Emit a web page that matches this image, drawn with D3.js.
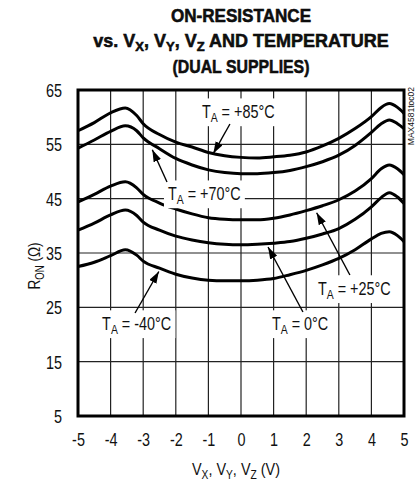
<!DOCTYPE html>
<html>
<head>
<meta charset="utf-8">
<script src="https://cdn.jsdelivr.net/npm/d3@7"></script>
<style>
  html, body { margin: 0; padding: 0; background: #fff; }
  svg text { font-family: 'Liberation Sans', Arial, sans-serif; fill: #111; }
</style>
</head>
<body>
<div id="chart"></div>
<script>
// supply voltage (V)
var volts = [-5, -4.5, -4, -3.55, -3.2, -3, -2.5, -2, -1.5, -1, -0.5, 0, 0.5, 1, 1.5, 2, 2.5, 3, 3.5, 4, 4.3, 4.55, 4.8, 5];

// R_ON (ohm) per temperature
var ron85  = [57.5, 59.0, 60.8, 61.7, 60.3, 58.8, 56.8, 55.4, 54.5, 53.5, 52.9, 52.6, 52.5, 52.7, 53.0, 53.6, 54.7, 56.1, 57.9, 60.1, 61.8, 62.5, 61.8, 60.7];
var ron70  = [54.3, 55.8, 57.4, 58.4, 57.5, 56.2, 54.2, 52.4, 51.2, 50.3, 49.8, 49.6, 49.6, 49.8, 50.2, 50.9, 51.8, 53.0, 54.8, 57.2, 58.8, 59.5, 58.8, 57.9];
var ron25  = [44.4, 45.8, 47.3, 48.1, 47.0, 45.8, 44.2, 43.1, 42.2, 41.5, 41.2, 41.1, 41.1, 41.4, 42.0, 42.8, 43.7, 44.8, 46.4, 48.7, 50.5, 51.2, 50.5, 49.4];
var ron0   = [39.2, 40.5, 42.0, 42.9, 41.9, 40.7, 39.2, 38.1, 37.4, 36.9, 36.6, 36.5, 36.6, 36.8, 37.1, 37.7, 38.5, 39.5, 41.2, 43.5, 45.2, 46.1, 45.3, 44.1];
var ronM40 = [32.5, 33.3, 34.5, 35.6, 34.6, 33.5, 32.2, 31.1, 30.4, 30.0, 29.9, 29.9, 30.0, 30.3, 31.0, 31.8, 32.8, 34.0, 35.6, 37.6, 38.6, 38.9, 38.2, 37.1];

var xTicks = [-5, -4, -3, -2, -1, 0, 1, 2, 3, 4, 5];
var yTicks = [5, 15, 25, 35, 45, 55, 65];

// annotation labels: text value, label anchor, arrow tail, arrow tip (data units)
var labelTemps = ['+85°C', '+70°C', '+25°C', '0°C', '-40°C'];
var labelPos   = [[-1.2, 59.85], [-2.24, 44.75], [2.36, 27.3], [0.95, 20.85], [-4.26, 20.85]];
var arrowTail  = [[-0.34, 58.74], [-2.27, 48.07], [3.34, 30.95], [1.90, 24.14], [-3.25, 23.96]];
var arrowTip   = [[-0.85, 53.3], [-2.72, 54.0], [2.32, 42.4], [0.83, 36.1], [-2.52, 31.6]];

var width = 415, height = 483;
var narrow = 0.8; // condensed look
var svg = d3.select('#chart').append('svg')
    .attr('width', width)
    .attr('height', height);

var x = d3.scaleLinear().domain([-5, 5]).range([78, 404]);
var y = d3.scaleLinear().domain([5, 65]).range([416, 90]);

// text with subscripts, parts = [[str, isSub], ...]
function subText(sel, parts, size, subSize) {
    var down = false;
    parts.forEach(function (p) {
        var t = sel.append('tspan').text(p[0]);
        if (p[1] && !down) { t.attr('dy', 4).attr('font-size', subSize); down = true; }
        else if (p[1]) { t.attr('font-size', subSize); }
        else if (down) { t.attr('dy', -4).attr('font-size', size); down = false; }
        else { t.attr('font-size', size); }
    });
}
// condensed text group at a pixel point
function narrowText(parent, px, py, rot, sx) {
    return parent.append('g')
        .attr('transform', 'translate(' + px + ',' + py + ')' + (rot ? ' rotate(' + rot + ')' : '') + ' scale(' + (sx || narrow) + ',1)');
}

// title
var tg1 = narrowText(svg, 241, 21.5, 0, 0.95);
tg1.append('text').attr('text-anchor', 'middle').attr('font-size', 18).attr('font-weight', 'bold')
    .attr('fill', '#000').attr('stroke', '#000').attr('stroke-width', 0.5).text('ON-RESISTANCE');
var tg2 = narrowText(svg, 241, 47, 0, 1.0);
var t2 = tg2.append('text').attr('text-anchor', 'middle').attr('font-weight', 'bold')
    .attr('fill', '#000').attr('stroke', '#000').attr('stroke-width', 0.5);
subText(t2, [['vs. V'], ['X', 1], [', V'], ['Y', 1], [', V'], ['Z', 1], [' AND TEMPERATURE']], 18, 13);
var tg3 = narrowText(svg, 241, 72.5, 0, 0.88);
tg3.append('text').attr('text-anchor', 'middle').attr('font-size', 18).attr('font-weight', 'bold')
    .attr('fill', '#000').attr('stroke', '#000').attr('stroke-width', 0.5).text('(DUAL SUPPLIES)');

// grid
var grid = svg.append('g').attr('stroke', '#222').attr('stroke-width', 1.2);
grid.selectAll('line.v').data(xTicks.slice(1, -1)).enter().append('line')
    .attr('x1', function (d) { return x(d); })
    .attr('x2', function (d) { return x(d); })
    .attr('y1', y(65)).attr('y2', y(5));
grid.selectAll('line.h').data(yTicks.slice(1, -1)).enter().append('line')
    .attr('y1', function (d) { return y(d); })
    .attr('y2', function (d) { return y(d); })
    .attr('x1', x(-5)).attr('x2', x(5));

// tick labels through the axes
var xAxis = svg.append('g').attr('transform', 'translate(0,' + y(5) + ')')
    .call(d3.axisBottom(x).tickValues(xTicks).tickSize(0).tickPadding(17).tickFormat(function (d) { return String(d); }));
var yAxis = svg.append('g').attr('transform', 'translate(' + x(-5) + ',0)')
    .call(d3.axisLeft(y).tickValues(yTicks).tickSize(0).tickPadding(20).tickFormat(function (d) { return String(d); }));
[xAxis, yAxis].forEach(function (a) {
    a.select('.domain').remove();
    a.selectAll('text').attr('font-size', 18)
        .attr('font-family', "'Liberation Sans', Arial, sans-serif").attr('fill', '#111')
        .attr('transform', 'scale(' + narrow + ',1)');
});
yAxis.selectAll('text').attr('dy', '0.36em');

// axis titles
var xlg = narrowText(svg, 236, 475, 0, 0.85);
var xl = xlg.append('text').attr('text-anchor', 'middle');
subText(xl, [['V'], ['X', 1], [', V'], ['Y', 1], [', V'], ['Z', 1], [' (V)']], 17, 12);
var ylg = narrowText(svg, 40, 266, -90);
var yl = ylg.append('text').attr('text-anchor', 'middle');
subText(yl, [['R'], ['ON', 1], [' (Ω)']], 17, 12);

// curves
var series = [ron85, ron70, ron25, ron0, ronM40];
var line = d3.line()
    .x(function (d, i) { return x(volts[i]); })
    .y(function (d) { return y(d); })
    .curve(d3.curveMonotoneX);
svg.append('g').selectAll('path').data(series).enter().append('path')
    .attr('d', line)
    .attr('fill', 'none')
    .attr('stroke', '#000')
    .attr('stroke-width', 3)
    .attr('stroke-linejoin', 'round');

// annotations
svg.append('defs').append('marker')
    .attr('id', 'head')
    .attr('viewBox', '0 0 12 8')
    .attr('refX', 12).attr('refY', 4)
    .attr('markerWidth', 12).attr('markerHeight', 8)
    .attr('markerUnits', 'userSpaceOnUse')
    .attr('orient', 'auto')
    .append('path').attr('d', 'M0,0 L12,4 L0,8 Z').attr('fill', '#000');

var ann = svg.append('g');
labelTemps.forEach(function (t, i) {
    var g = narrowText(ann, x(labelPos[i][0]), y(labelPos[i][1]));
    var bg = g.append('rect').attr('fill', '#fff');
    var txt = g.append('text');
    subText(txt, [['T'], ['A', 1], [' = ' + t]], 18, 13);
    var b = txt.node().getBBox();
    bg.attr('x', b.x - 5).attr('y', b.y - 3).attr('width', b.width + 10).attr('height', b.height + 5);
    ann.append('line')
        .attr('x1', x(arrowTail[i][0])).attr('y1', y(arrowTail[i][1]))
        .attr('x2', x(arrowTip[i][0])).attr('y2', y(arrowTip[i][1]))
        .attr('stroke', '#000').attr('stroke-width', 1.4)
        .attr('marker-end', 'url(#head)');
});

// frame
svg.append('rect')
    .attr('x', x(-5)).attr('y', y(65))
    .attr('width', x(5) - x(-5)).attr('height', y(5) - y(65))
    .attr('fill', 'none').attr('stroke', '#000').attr('stroke-width', 3);

// part watermark
svg.append('text')
    .attr('transform', 'translate(414,87) rotate(-90)')
    .attr('text-anchor', 'end')
    .attr('font-size', 8.5)
    .attr('fill', '#666')
    .text('MAX4581toc02');
</script>
</body>
</html>
